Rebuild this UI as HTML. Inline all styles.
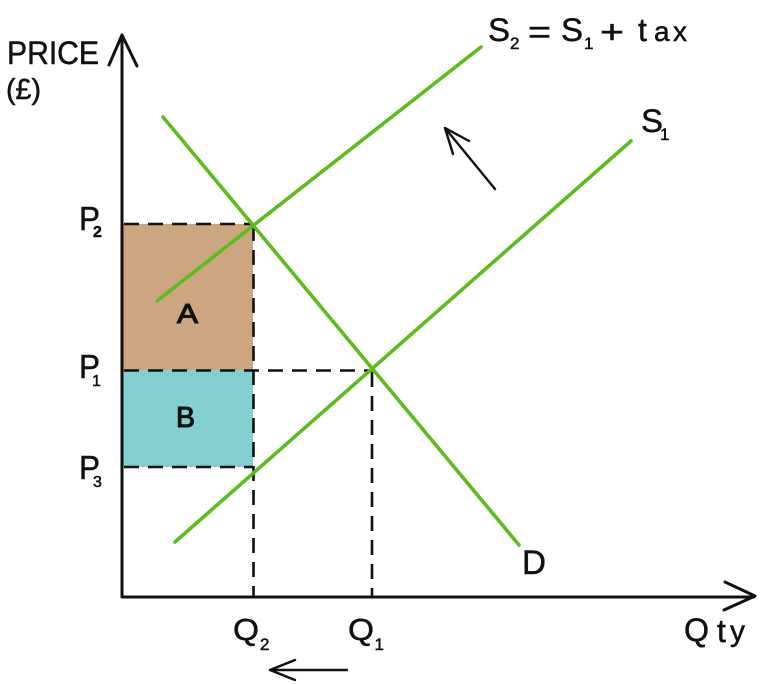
<!DOCTYPE html>
<html>
<head>
<meta charset="utf-8">
<style>
html,body{margin:0;padding:0;background:#fff;}
svg{display:block;}
text{font-family:"Liberation Sans",sans-serif;fill:#111;stroke:#111;stroke-width:.5px;}
</style>
</head>
<body>
<svg width="760" height="684" viewBox="0 0 760 684" xmlns="http://www.w3.org/2000/svg">
<rect width="760" height="684" fill="#fff"/>
<rect x="122" y="224" width="131" height="146" fill="#cba680"/>
<rect x="122" y="370" width="131" height="97" fill="#84cfd0"/>
<g stroke="#111" stroke-width="2.6" stroke-dasharray="15 9" fill="none">
<line x1="124" y1="224" x2="253" y2="224"/>
<line x1="124" y1="370.5" x2="372" y2="370.5"/>
<line x1="124" y1="467" x2="253" y2="467"/>
<line x1="253.5" y1="226" x2="253.5" y2="597"/>
<line x1="372" y1="372" x2="372" y2="597"/>
</g>
<g stroke="#5cbc1e" stroke-width="3.6" fill="none" stroke-linecap="round">
<line x1="157" y1="301" x2="481" y2="47"/>
<line x1="163" y1="117" x2="519" y2="545"/>
<line x1="175" y1="542" x2="631" y2="141"/>
</g>
<g stroke="#111" stroke-width="3" fill="none" stroke-linecap="round" stroke-linejoin="round">
<polyline points="122,35 122,597 754,597"/>
<polyline points="109,65 122,35 137,66"/>
<polyline points="725,582 755,596 724,610"/>
</g>
<g stroke="#111" stroke-width="2.4" fill="none" stroke-linecap="round" stroke-linejoin="round">
<line x1="495" y1="189" x2="445" y2="128"/>
<polyline points="453,154 445,128 469,141"/>
<line x1="347" y1="670" x2="270" y2="670"/>
<polyline points="295,660 270,670 295,680"/>
</g>
<text x="7" y="64" font-size="32" textLength="92" lengthAdjust="spacingAndGlyphs">PRICE</text>
<text x="6" y="99" font-size="29" textLength="35" lengthAdjust="spacingAndGlyphs">(£)</text>
<text x="79" y="230" font-size="33" textLength="21" lengthAdjust="spacingAndGlyphs">P</text>
<text x="93" y="237" font-size="16" font-weight="bold">2</text>
<text x="79" y="378" font-size="33" textLength="21" lengthAdjust="spacingAndGlyphs">P</text>
<text x="92" y="386" font-size="16">1</text>
<text x="79" y="479" font-size="33" textLength="21" lengthAdjust="spacingAndGlyphs">P</text>
<text x="93" y="487" font-size="16">3</text>
<text x="233" y="640" font-size="31" textLength="26" lengthAdjust="spacingAndGlyphs">Q</text>
<text x="260" y="650" font-size="17">2</text>
<text x="348" y="640" font-size="31" textLength="26" lengthAdjust="spacingAndGlyphs">Q</text>
<text x="374.5" y="650" font-size="17">1</text>
<text x="488" y="41" font-size="32" textLength="22" lengthAdjust="spacingAndGlyphs">S</text>
<text x="510" y="49" font-size="17">2</text>
<text x="528" y="43" font-size="32" textLength="23" lengthAdjust="spacingAndGlyphs">=</text>
<text x="561" y="41" font-size="32" textLength="22" lengthAdjust="spacingAndGlyphs">S</text>
<text x="584" y="49" font-size="17">1</text>
<text x="600" y="43" font-size="32" textLength="24" lengthAdjust="spacingAndGlyphs">+</text>
<text x="638" y="41" font-size="32">t</text>
<text x="654" y="41" font-size="28">a</text>
<text x="673" y="41" font-size="28">x</text>
<text x="641" y="132" font-size="32" textLength="22" lengthAdjust="spacingAndGlyphs">S</text>
<text x="660" y="140" font-size="17">1</text>
<text x="522" y="574" font-size="34" textLength="24" lengthAdjust="spacingAndGlyphs">D</text>
<text x="684" y="641" font-size="32" textLength="25" lengthAdjust="spacingAndGlyphs">Q</text>
<text x="717" y="642" font-size="32">t</text>
<text x="730" y="641" font-size="30">y</text>
<text x="177" y="323" font-size="28" textLength="21" lengthAdjust="spacingAndGlyphs" style="stroke-width:1.1px">A</text>
<text x="176" y="427" font-size="29" textLength="19" lengthAdjust="spacingAndGlyphs" style="stroke-width:1.1px">B</text>
</svg>
</body>
</html>
